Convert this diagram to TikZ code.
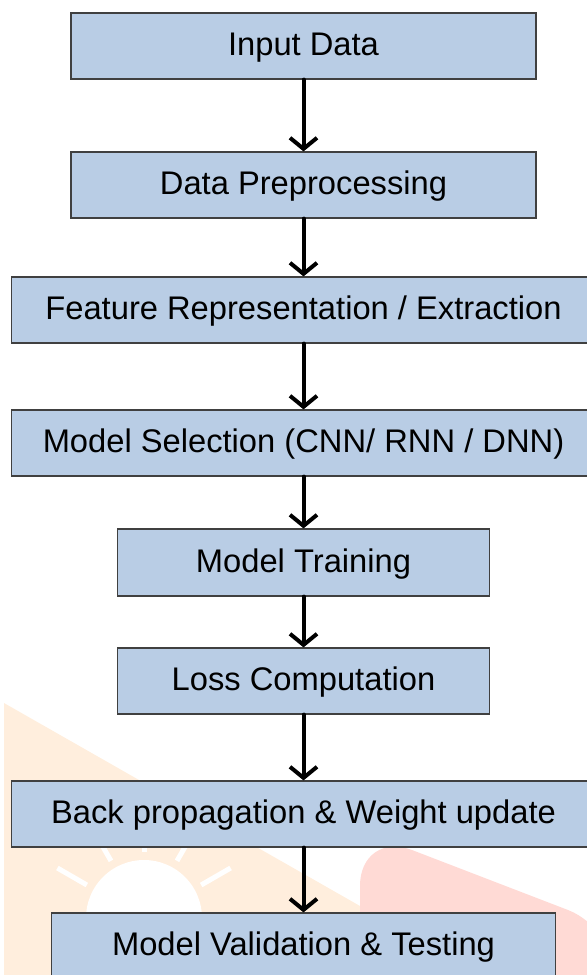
\documentclass[tikz,border=0pt]{standalone}
\usepackage{fontspec}
\setmainfont{Liberation Sans}
\definecolor{boxblue}{RGB}{185, 205, 229}
\definecolor{edgegray}{RGB}{64, 64, 64}
\definecolor{markorange}{RGB}{255, 238, 221}
\definecolor{markred}{RGB}{255, 218, 213}
\usepackage{tikz}
\usetikzlibrary{arrows.meta}

\begin{document}
\begin{tikzpicture}[x=0.5pt, y=-0.5pt,
    stage/.style={draw=edgegray, line width=0.6pt, fill=boxblue, inner sep=0pt,
      minimum height=33pt, text height=12pt, text depth=2.5pt,
      font=\fontsize{16.35}{19}\selectfont},
    flow/.style={-{Straight Barb[length=5.5pt, width=13.5pt]}, line width=2pt, line cap=round}]
  \useasboundingbox (0,0) rectangle (586,975);

  % faint logo behind the lower boxes
  \fill[markorange] (4,703) -- (481,975) -- (4,975) -- cycle;
  \fill[markred, rounded corners=28pt] (360,990) -- (360,830) -- (620,930) -- (620,990) -- cycle;
  \fill[white] (144,918) circle (58);
  \foreach \a in {-30,-60,-90,-120,-150}
    \draw[white, line width=2.5pt] ([shift={(144,918)}]\a:66) -- ([shift={(144,918)}]\a:100);

  % pipeline stages
  \node[stage, minimum width=232.5pt] (input) at (303.5,46) {Input Data};
  \node[stage, minimum width=232.5pt] (prep) at (303.5,185) {Data Preprocessing};
  \node[stage, minimum width=292pt] (feat) at (303.5,310) {Feature Representation / Extraction};
  \node[stage, minimum width=292pt] (modelsel) at (303.5,443) {Model Selection (CNN/ RNN / DNN)};
  \node[stage, minimum width=186pt, minimum height=33.5pt] (train) at (303.5,562.5) {Model Training};
  \node[stage, minimum width=186pt] (loss) at (303.5,681) {Loss Computation};
  \node[stage, minimum width=292pt] (backprop) at (303.5,814) {Back propagation \& Weight update};
  \node[stage, minimum width=252pt] (valid) at (303.5,946) {Model Validation \& Testing};

  % arrows between stages
  \draw[flow] (input) -- (prep);
  \draw[flow] (prep) -- (feat);
  \draw[flow] (feat) -- (modelsel);
  \draw[flow] (modelsel) -- (train);
  \draw[flow] (train) -- (loss);
  \draw[flow] (loss) -- (backprop);
  \draw[flow] (backprop) -- (valid);
\end{tikzpicture}
\end{document}
